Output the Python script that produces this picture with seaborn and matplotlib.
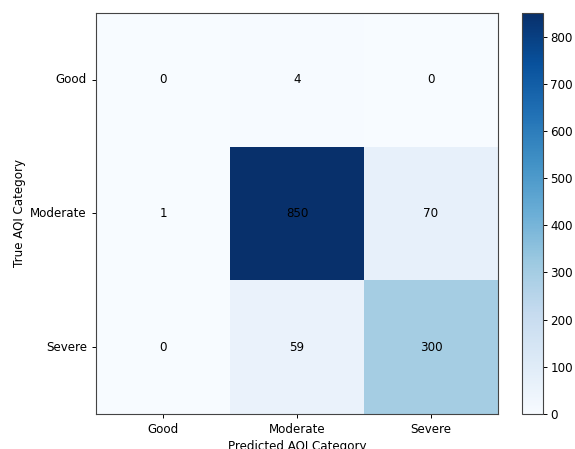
import numpy as np
import pandas as pd
import matplotlib
matplotlib.use("Agg")
import matplotlib.pyplot as plt
import seaborn as sns

# AQI category labels and confusion-matrix counts (rows: true, cols: predicted)
categories = ["Good", "Moderate", "Severe"]
row_good = [0, 4, 0]
row_moderate = [1, 850, 70]
row_severe = [0, 59, 300]

cm = pd.DataFrame([row_good, row_moderate, row_severe],
                  index=categories, columns=categories)

FS = 8.6

fig = plt.figure(figsize=(5.75, 4.49), dpi=100)
ax = fig.add_axes([0.167, 0.078, 0.699, 0.893])
cax = fig.add_axes([0.908, 0.078, 0.036, 0.893])

sns.heatmap(cm, ax=ax, cbar_ax=cax, cmap="Blues", annot=True, fmt="d",
            annot_kws={"color": "black", "fontsize": FS}, square=False)

# restore the frame around the matrix and the colour bar
for side in ax.spines.values():
    side.set_visible(True)
    side.set_color("#444444")
    side.set_linewidth(0.8)
cbar = ax.collections[0].colorbar
cbar.outline.set_visible(True)
cbar.outline.set_edgecolor("#444444")
cbar.outline.set_linewidth(0.8)
cbar.set_ticks(np.arange(0, 900, 100))
cbar.ax.tick_params(labelsize=FS, length=3, width=0.7, pad=2.5)

ax.tick_params(axis="both", length=3, width=0.7, labelsize=FS)
ax.set_yticklabels(categories, rotation=0)
ax.set_xticklabels(categories, rotation=0)
ax.set_xlabel("Predicted AQI Category", fontsize=FS, labelpad=3)
ax.set_ylabel("True AQI Category", fontsize=FS, labelpad=3)

fig.savefig("out.png", dpi=100)
